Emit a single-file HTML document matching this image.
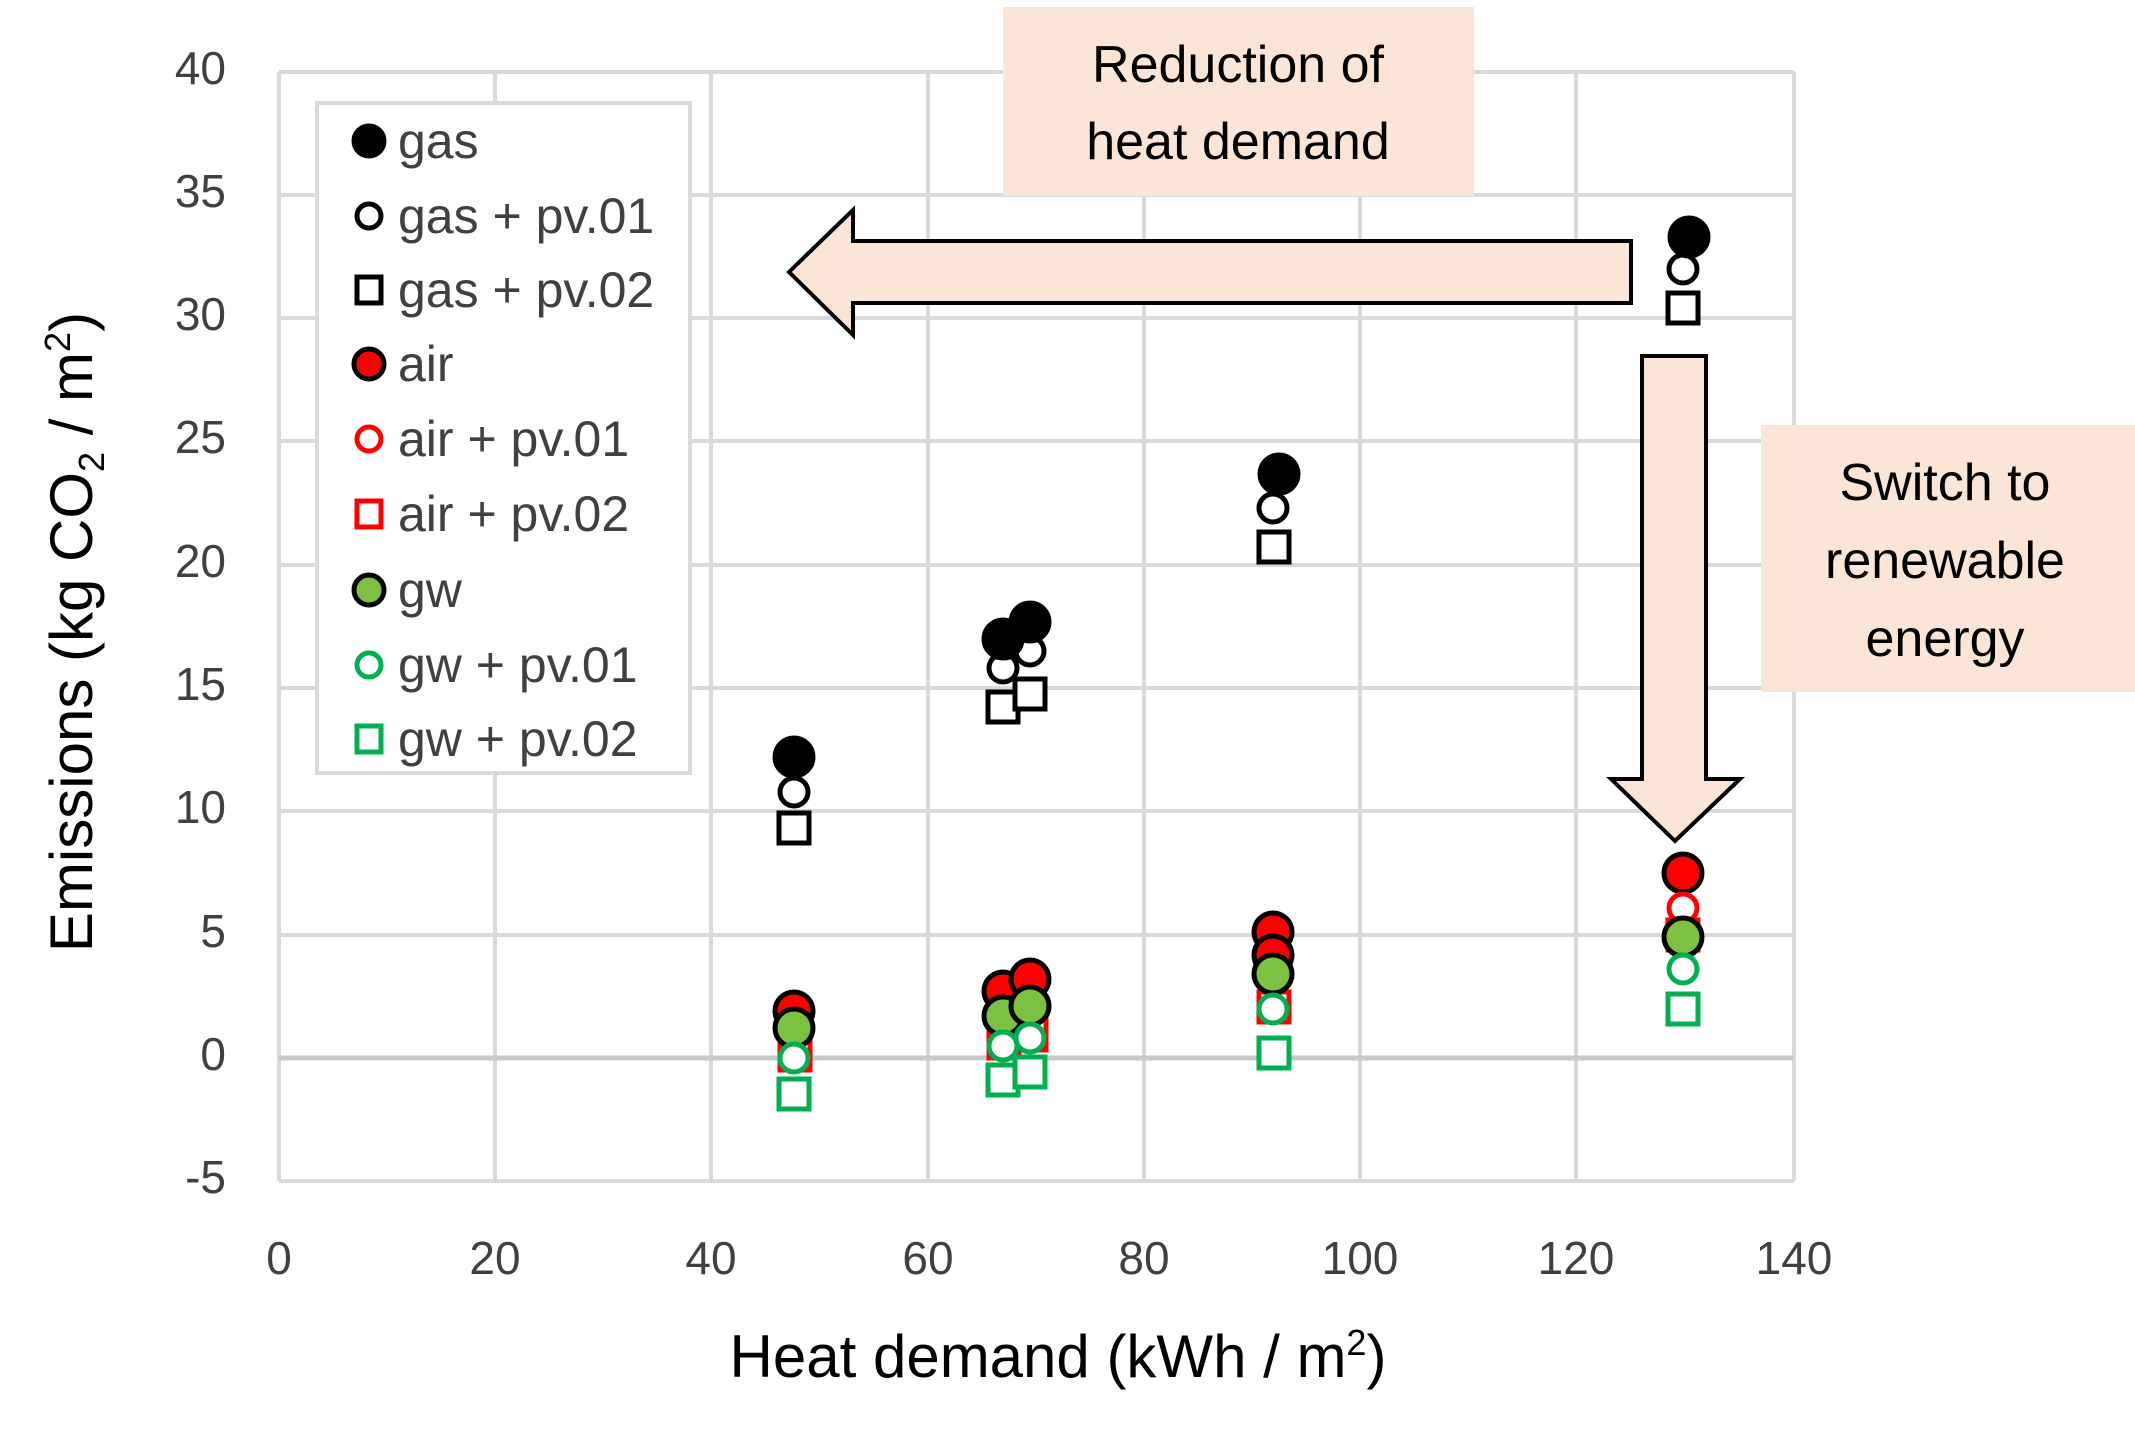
<!DOCTYPE html>
<html><head><meta charset="utf-8"><style>
html,body{margin:0;padding:0;background:#fff;}
svg{display:block;}
text{font-family:"Liberation Sans Narrow","Liberation Sans",sans-serif;}
.t{font-size:46px;fill:#404040;}
.lg{font-size:50px;fill:#404040;}
.bt{font-family:"Liberation Sans",sans-serif;font-size:52px;fill:#000;}
</style></head><body>
<svg width="2135" height="1443" viewBox="0 0 2135 1443" xmlns="http://www.w3.org/2000/svg">
<rect width="2135" height="1443" fill="#fff"/>
<g stroke="#d9d9d9" stroke-width="4" fill="none">
<line x1="279" y1="72" x2="1794" y2="72"/><line x1="279" y1="195" x2="1794" y2="195"/>
<line x1="279" y1="318" x2="1794" y2="318"/><line x1="279" y1="441" x2="1794" y2="441"/>
<line x1="279" y1="565" x2="1794" y2="565"/><line x1="279" y1="688" x2="1794" y2="688"/>
<line x1="279" y1="811" x2="1794" y2="811"/><line x1="279" y1="935" x2="1794" y2="935"/>
<line x1="279" y1="1181" x2="1794" y2="1181"/>
<line x1="279" y1="72" x2="279" y2="1181"/><line x1="495" y1="72" x2="495" y2="1181"/>
<line x1="711" y1="72" x2="711" y2="1181"/><line x1="928" y1="72" x2="928" y2="1181"/>
<line x1="1144" y1="72" x2="1144" y2="1181"/><line x1="1360" y1="72" x2="1360" y2="1181"/>
<line x1="1576" y1="72" x2="1576" y2="1181"/><line x1="1794" y1="72" x2="1794" y2="1181"/>
</g>
<line x1="279" y1="1058" x2="1794" y2="1058" stroke="#c8c8c8" stroke-width="5"/>
<g class="t" text-anchor="end">
<text x="226" y="84">40</text><text x="226" y="207">35</text><text x="226" y="330">30</text>
<text x="226" y="453">25</text><text x="226" y="577">20</text><text x="226" y="700">15</text>
<text x="226" y="823">10</text><text x="226" y="947">5</text><text x="226" y="1070">0</text>
<text x="226" y="1193">-5</text>
</g>
<g class="t" text-anchor="middle">
<text x="279" y="1274">0</text><text x="495" y="1274">20</text><text x="711" y="1274">40</text>
<text x="928" y="1274">60</text><text x="1144" y="1274">80</text><text x="1360" y="1274">100</text>
<text x="1576" y="1274">120</text><text x="1794" y="1274">140</text>
</g>
<text x="1058" y="1377" text-anchor="middle" font-size="60" fill="#000">Heat demand (kWh / m<tspan font-size="36" dy="-22">2</tspan><tspan dy="22">)</tspan></text>
<text transform="translate(92,632) rotate(-90)" text-anchor="middle" font-size="60" fill="#000">Emissions (kg CO<tspan font-size="36" dy="12">2</tspan><tspan dy="-12"> / m</tspan><tspan font-size="36" dy="-22">2</tspan><tspan dy="22">)</tspan></text>

<!-- data -->
<g stroke-width="5">
<!-- air+pv02 (mostly hidden) -->
<g fill="#fff" stroke="#ff0000">
<rect x="780" y="1040" width="30" height="30"/><rect x="989" y="1028" width="30" height="30"/>
<rect x="1016" y="1020" width="30" height="30"/><rect x="1259" y="992" width="30" height="30"/>
<rect x="1668" y="920" width="30" height="30"/>
</g>
<!-- gw+pv02 squares -->
<g fill="#fff" stroke="#00b050">
<rect x="779" y="1079" width="30" height="30"/><rect x="988" y="1065" width="30" height="30"/>
<rect x="1015" y="1057" width="30" height="30"/><rect x="1259" y="1038" width="30" height="30"/>
<rect x="1668" y="994" width="30" height="30"/>
</g>
<!-- air -->
<g fill="#ff0000" stroke="#000">
<circle cx="794" cy="1011" r="19"/><circle cx="1003" cy="991" r="19"/><circle cx="1030" cy="979" r="19"/>
<circle cx="1273" cy="932" r="19"/><circle cx="1273" cy="955" r="19"/><circle cx="1683" cy="873" r="19"/>
</g>
<!-- air+pv01 -->
<g fill="#fff" stroke="#ff0000">
<circle cx="1683" cy="908" r="14"/>
</g>
<!-- gw -->
<g fill="#7dc142" stroke="#000">
<circle cx="794" cy="1028" r="19"/><circle cx="1003" cy="1016" r="19"/><circle cx="1030" cy="1006" r="19"/>
<circle cx="1273" cy="974" r="19"/><circle cx="1683" cy="937" r="19"/>
</g>
<!-- gw+pv01 -->
<g fill="#fff" stroke="#00b050">
<circle cx="794" cy="1058" r="14"/><circle cx="1003" cy="1046" r="14"/><circle cx="1030" cy="1038" r="14"/>
<circle cx="1273" cy="1009" r="14"/><circle cx="1683" cy="969" r="14"/>
</g>
<!-- gas+pv02 -->
<g fill="#fff" stroke="#000">
<rect x="779" y="813" width="30" height="30"/><rect x="988" y="692" width="30" height="30"/>
<rect x="1015" y="679" width="30" height="30"/><rect x="1259" y="532" width="30" height="30"/>
<rect x="1668" y="293" width="30" height="30"/>
</g>
<!-- gas+pv01 -->
<g fill="#fff" stroke="#000">
<circle cx="794" cy="792" r="14"/><circle cx="1003" cy="668" r="14"/><circle cx="1030" cy="651" r="14"/>
<circle cx="1273" cy="508" r="14"/><circle cx="1683" cy="269" r="14"/>
</g>
<!-- gas -->
<g fill="#000" stroke="#000">
<circle cx="794" cy="757" r="19"/><circle cx="1003" cy="639" r="19"/><circle cx="1030" cy="622" r="19"/>
<circle cx="1279" cy="474" r="19"/><circle cx="1689" cy="237" r="19"/>
</g>
</g>

<!-- legend -->
<rect x="317" y="103" width="373" height="670" fill="#fff" stroke="#d9d9d9" stroke-width="4"/>
<g stroke-width="5">
<circle cx="369" cy="141" r="15" fill="#000" stroke="#000"/>
<circle cx="369" cy="216" r="12" fill="#fff" stroke="#000"/>
<rect x="357" y="277" width="24" height="26" fill="#fff" stroke="#000"/>
<circle cx="369" cy="364" r="15" fill="#ff0000" stroke="#000"/>
<circle cx="369" cy="439" r="12" fill="#fff" stroke="#ff0000"/>
<rect x="357" y="501" width="24" height="26" fill="#fff" stroke="#ff0000"/>
<circle cx="369" cy="590" r="15" fill="#7dc142" stroke="#000"/>
<circle cx="369" cy="665" r="12" fill="#fff" stroke="#00b050"/>
<rect x="357" y="726" width="24" height="26" fill="#fff" stroke="#00b050"/>
</g>
<g class="lg">
<text x="398" y="158">gas</text><text x="398" y="233">gas + pv.01</text><text x="398" y="307">gas + pv.02</text>
<text x="398" y="381">air</text><text x="398" y="456">air + pv.01</text><text x="398" y="531">air + pv.02</text>
<text x="398" y="607">gw</text><text x="398" y="682">gw + pv.01</text><text x="398" y="756">gw + pv.02</text>
</g>

<!-- annotations -->
<rect x="1003" y="7" width="471" height="189" fill="#fbe5d6"/>
<text class="bt" x="1238" y="82" text-anchor="middle">Reduction of</text>
<text class="bt" x="1238" y="159" text-anchor="middle">heat demand</text>
<polygon points="789,272 853,210 853,241 1631,241 1631,303 853,303 853,335" fill="#fbe5d6" stroke="#000" stroke-width="4"/>
<polygon points="1642,356 1706,356 1706,779 1740,779 1675,841 1611,779 1642,779" fill="#fbe5d6" stroke="#000" stroke-width="4"/>
<rect x="1761" y="425" width="374" height="267" fill="#fbe5d6"/>
<text class="bt" x="1945" y="500" text-anchor="middle">Switch to</text>
<text class="bt" x="1945" y="578" text-anchor="middle">renewable</text>
<text class="bt" x="1945" y="656" text-anchor="middle">energy</text>
</svg>
</body></html>
